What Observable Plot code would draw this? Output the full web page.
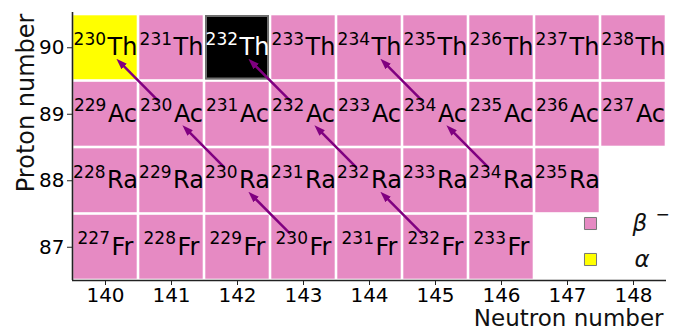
<!DOCTYPE html>
<html>
<head>
<meta charset="utf-8">
<script src="https://cdn.jsdelivr.net/npm/d3@7"></script>
<script src="https://cdn.jsdelivr.net/npm/@observablehq/plot@0.6"></script>
<style>
  html, body { margin: 0; padding: 0; background: white; }
  svg { display: block; }
</style>
</head>
<body>
<div id="chart"></div>
<script>
// ---- data ----
const elements = ["Fr", "Ra", "Ac", "Th"];
const protonNumbers = [87, 88, 89, 90];
const frMasses = [227, 228, 229, 230, 231, 232, 233];
const raMasses = [228, 229, 230, 231, 232, 233, 234, 235];
const acMasses = [229, 230, 231, 232, 233, 234, 235, 236, 237];
const thMasses = [230, 231, 232, 233, 234, 235, 236, 237, 238];
const alphaEmitters = ["230Th"];
const primordial = ["232Th"];
const betaSources = ["230Ac", "230Ra", "230Fr", "232Ac", "232Ra", "232Fr", "234Ac", "234Ra"];
const neutronTicks = [140, 141, 142, 143, 144, 145, 146, 147, 148];
const protonTicks = [87, 88, 89, 90];
const legendLabels = ["β", "α"];

// ---- styles ----
const pink = "#e68ac3";
const yellow = "#ffff00";
const purple = "#800080";
const font = "DejaVu Sans";

const massLists = [frMasses, raMasses, acMasses, thMasses];
const cells = [];
elements.forEach((el, i) => {
  const z = protonNumbers[i];
  massLists[i].forEach(a => {
    const key = a + el;
    const stable = primordial.includes(key);
    const alpha = alphaEmitters.includes(key);
    cells.push({
      el, z, a, n: a - z, key,
      fill: stable ? "black" : alpha ? yellow : pink,
      textColor: stable ? "white" : "black",
      stable
    });
  });
});
const arrows = cells.filter(d => betaSources.includes(d.key));

// text width measurement for superscript layout
const ctx = document.createElement("canvas").getContext("2d");
function textWidth(s, size) {
  ctx.font = `${size}px "${font}"`;
  return ctx.measureText(s).width;
}
const supSize = 17, mainSize = 24, gap = 1.5;

const labelMarks = [];
elements.forEach(el => {
  const sub = cells.filter(d => d.el === el);
  const supW = textWidth("230", supSize);
  const mainW = textWidth(el, mainSize);
  const jx = -(supW + gap + mainW) / 2 + supW + gap;
  labelMarks.push(Plot.text(sub, {
    x: "n", y: "z", text: d => String(d.a), textAnchor: "end", lineAnchor: "bottom",
    dx: jx - gap, dy: -3, fontSize: supSize, fill: "textColor"
  }));
  labelMarks.push(Plot.text(sub, {
    x: "n", y: "z", text: "el", textAnchor: "start", lineAnchor: "bottom",
    dx: jx, dy: 7.5, fontSize: mainSize, fill: "textColor"
  }));
});

const filledArrow = (color, context) => {
  const m = d3.create("svg:marker")
    .attr("viewBox", "0 -5 11 10")
    .attr("refX", 4).attr("refY", 0)
    .attr("markerUnits", "userSpaceOnUse")
    .attr("markerWidth", 11).attr("markerHeight", 10)
    .attr("orient", "auto");
  m.append("path").attr("d", "M0,-3.8L11,0L0,3.8Z").attr("fill", color).attr("stroke", "none");
  return m.node();
};

const chart = Plot.plot({
  width: 691,
  height: 329,
  marginLeft: 72,
  marginRight: 25,
  marginTop: 14,
  marginBottom: 49,
  x: { domain: [139.5, 148.5] },
  y: { domain: [86.5, 90.5] },
  color: { type: "identity" },
  style: { fontFamily: font, background: "white", color: "black" },
  marks: [
    Plot.rect(cells, {
      x1: d => d.n - 0.5, x2: d => d.n + 0.5,
      y1: d => d.z - 0.5, y2: d => d.z + 0.5,
      fill: "fill", inset: 1.3
    }),
    Plot.rect(cells.filter(d => d.stable), {
      x1: d => d.n - 0.5, x2: d => d.n + 0.5,
      y1: d => d.z - 0.5, y2: d => d.z + 0.5,
      fill: "black", stroke: "#6e6e6e", strokeWidth: 2, inset: 2
    }),
    Plot.link(arrows, {
      x1: d => d.n - 0.2, y1: d => d.z + 0.2,
      x2: d => d.n - 1 + 0.24, y2: d => d.z + 1 - 0.24,
      stroke: purple, strokeWidth: 2.5, markerEnd: filledArrow
    }),
    ...labelMarks,
    Plot.ruleX([139.5], { y1: 86.5, y2: 90.53, stroke: "#222", strokeWidth: 1.6 }),
    Plot.ruleY([86.5], { x1: 139.5, x2: 148.5, stroke: "#222", strokeWidth: 1.6 }),
    Plot.axisX({ ticks: neutronTicks, tickFormat: d => String(d), fontSize: 20, tickSize: 5, tickPadding: 2, label: null, stroke: "#222" }),
    Plot.axisY({ ticks: protonTicks, tickFormat: d => String(d), fontSize: 20, tickSize: 5, tickPadding: 3, label: null, stroke: "#222" }),
    Plot.text(["Neutron number"], {
      frameAnchor: "bottom-right", textAnchor: "end", lineAnchor: "bottom",
      dx: -3, dy: 45, fontSize: 23, fill: "#111"
    }),
    Plot.text(["Proton number"], {
      frameAnchor: "top-left", textAnchor: "end", lineAnchor: "bottom",
      rotate: -90, dx: -39, dy: -1, fontSize: 24, fill: "#111"
    }),
    // legend
    Plot.dot([pink], { x: null, y: null, frameAnchor: "bottom-right", dx: -76, dy: -57, symbol: "square", r: 6.8, fill: pink, stroke: "#777", strokeWidth: 1 }),
    Plot.dot([yellow], { x: null, y: null, frameAnchor: "bottom-right", dx: -76, dy: -21, symbol: "square", r: 6.8, fill: yellow, stroke: "#777", strokeWidth: 1 }),
    Plot.text([legendLabels[0]], { frameAnchor: "bottom-right", textAnchor: "start", lineAnchor: "middle", dx: -34, dy: -57, fontSize: 23, fontStyle: "italic", fill: "#111" }),
    Plot.text(["−"], { frameAnchor: "bottom-right", textAnchor: "start", lineAnchor: "middle", dx: -11, dy: -66, fontSize: 17, fill: "#111" }),
    Plot.text([legendLabels[1]], { frameAnchor: "bottom-right", textAnchor: "start", lineAnchor: "middle", dx: -32, dy: -21, fontSize: 23, fontStyle: "italic", fill: "#111" })
  ]
});
document.getElementById("chart").appendChild(chart);
</script>
</body>
</html>
